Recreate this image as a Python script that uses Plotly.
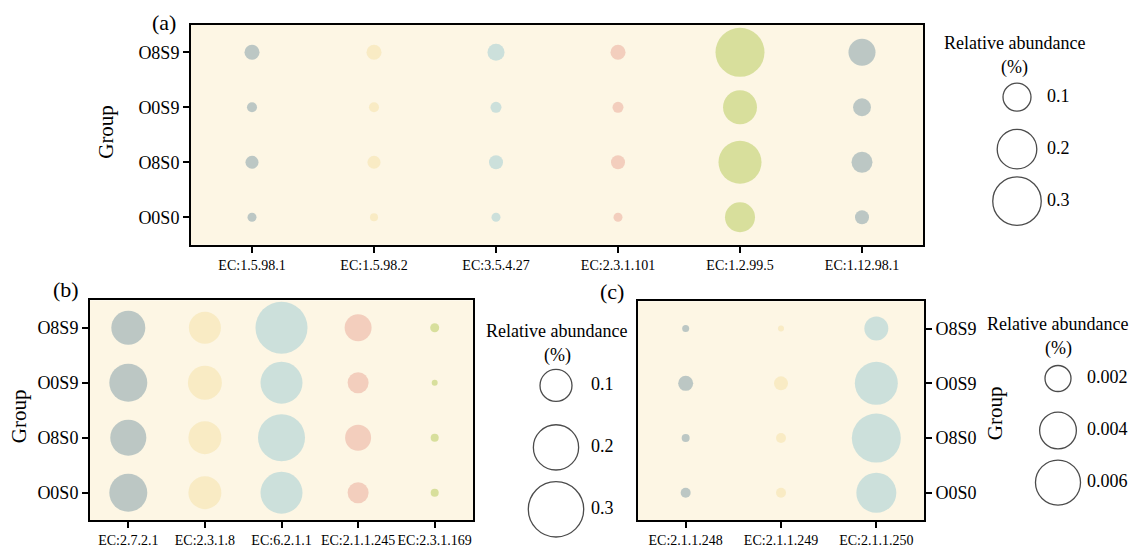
import plotly.graph_objects as go

W, H = 1141, 548
FONT = "Liberation Serif"

# ---------------- data ----------------
groups = ["O0S0", "O8S0", "O0S9", "O8S9"]          # bottom -> top
rows_top_down = ["O8S9", "O0S9", "O8S0", "O0S0"]   # order of values below

ec_a = ["EC:1.5.98.1", "EC:1.5.98.2", "EC:3.5.4.27", "EC:2.3.1.101", "EC:1.2.99.5", "EC:1.12.98.1"]
vals_a = [
    [0.0287, 0.0128, 0.0216, 0.0103],
    [0.0287, 0.0128, 0.0216, 0.0082],
    [0.0369, 0.0154, 0.0250, 0.0103],
    [0.0287, 0.0154, 0.0250, 0.0103],
    [0.3060, 0.1470, 0.2360, 0.1150],
    [0.0930, 0.0410, 0.0560, 0.0250],
]

ec_b = ["EC:2.7.2.1", "EC:2.3.1.8", "EC:6.2.1.1", "EC:2.1.1.245", "EC:2.3.1.169"]
vals_b = [
    [0.113, 0.141, 0.127, 0.141],
    [0.100, 0.113, 0.106, 0.106],
    [0.264, 0.172, 0.216, 0.172],
    [0.071, 0.043, 0.066, 0.043],
    [0.0079, 0.0035, 0.0063, 0.0063],
]

ec_c = ["EC:2.1.1.248", "EC:2.1.1.249", "EC:2.1.1.250"]
vals_c = [
    [0.000145, 0.000666, 0.000189, 0.000296],
    [0.000107, 0.000580, 0.000296, 0.000296],
    [0.00170, 0.00547, 0.00710, 0.00473],
]

legend_a = [0.1, 0.2, 0.3]
legend_b = [0.1, 0.2, 0.3]
legend_c = [0.002, 0.004, 0.006]
legend_a_labels = ["0.1", "0.2", "0.3"]
legend_b_labels = ["0.1", "0.2", "0.3"]
legend_c_labels = ["0.002", "0.004", "0.006"]

palette = ["#a0b4b6", "#f6e7b6", "#b7d7d7", "#eebdad", "#c8d57e"]
BG = "#fdf6e4"

# marker scaling (area proportional), per panel
sizeref_a = 2 * 0.1 / 28 ** 2
sizeref_b = 2 * 0.1 / 32 ** 2
sizeref_c = 2 * 0.002 / 26 ** 2


def px_x(p):
    return p / W


def px_y(p):
    return 1 - p / H


fig = go.Figure()


def add_panel(ecs, vals, xa, ya, sizeref):
    xs, ys, ss, cs = [], [], [], []
    for i, ec in enumerate(ecs):
        for j, g in enumerate(rows_top_down):
            xs.append(ec)
            ys.append(g)
            ss.append(vals[i][j])
            cs.append(palette[i % len(palette)])
    fig.add_trace(go.Scatter(
        x=xs, y=ys, mode="markers", xaxis=xa, yaxis=ya,
        marker=dict(size=ss, sizemode="area", sizeref=sizeref, color=cs,
                    line=dict(width=0)),
        cliponaxis=False, showlegend=False, hoverinfo="x+y+text",
        text=[str(s) for s in ss],
    ))


def add_legend(values, labels, xa, ya, sizeref):
    fig.add_trace(go.Scatter(
        x=[0] * len(values), y=labels, mode="markers", xaxis=xa, yaxis=ya,
        marker=dict(size=values, sizemode="area", sizeref=sizeref,
                    color="rgba(0,0,0,0)", line=dict(width=1.3, color="black")),
        cliponaxis=False, showlegend=False, hoverinfo="skip",
    ))
    fig.add_trace(go.Scatter(
        x=[1] * len(values), y=labels, mode="text", text=labels,
        textposition="middle right", xaxis=xa, yaxis=ya,
        textfont=dict(family=FONT, size=18, color="black"),
        cliponaxis=False, showlegend=False, hoverinfo="skip",
    ))


add_panel(ec_a, vals_a, "x", "y", sizeref_a)
add_panel(ec_b, vals_b, "x2", "y2", sizeref_b)
add_panel(ec_c, vals_c, "x3", "y3", sizeref_c)
add_legend(legend_a, legend_a_labels, "x4", "y4", sizeref_a)
add_legend(legend_b, legend_b_labels, "x5", "y5", sizeref_b)
add_legend(legend_c, legend_c_labels, "x6", "y6", sizeref_c)

axis_common = dict(showline=True, linewidth=2, linecolor="black", mirror=True,
                   showgrid=False, zeroline=False, ticks="outside", ticklen=6,
                   tickwidth=2, tickcolor="black", type="category")


def xaxis(ecs, dom, anchor):
    return dict(axis_common, domain=dom, anchor=anchor, range=[-0.5, len(ecs) - 0.5],
                categoryorder="array", categoryarray=ecs, tickangle=0,
                tickfont=dict(family=FONT, size=14, color="black"))


def yaxis(dom, anchor, side="left"):
    return dict(axis_common, domain=dom, anchor=anchor, range=[-0.5, len(groups) - 0.5],
                categoryorder="array", categoryarray=groups, side=side,
                tickfont=dict(family=FONT, size=18, color="black"))


hidden = dict(visible=False, showgrid=False, zeroline=False, fixedrange=True)

fig.update_layout(
    width=W, height=H, autosize=False,
    margin=dict(l=0, r=0, t=0, b=0),
    paper_bgcolor="white", plot_bgcolor="rgba(0,0,0,0)",
    font=dict(family=FONT, color="black"),
    xaxis=xaxis(ec_a, [px_x(191), px_x(923)], "y"),
    yaxis=yaxis([px_y(247), px_y(25)], "x"),
    xaxis2=xaxis(ec_b, [px_x(90), px_x(473)], "y2"),
    yaxis2=yaxis([px_y(525), px_y(303)], "x2"),
    xaxis3=xaxis(ec_c, [px_x(638), px_x(924)], "y3"),
    yaxis3=yaxis([px_y(525), px_y(304)], "x3", side="right"),
    xaxis4=dict(hidden, domain=[px_x(987), px_x(1092)], anchor="y4", range=[-1, 2.5]),
    yaxis4=dict(hidden, domain=[px_y(229.25), px_y(71.75)], anchor="x4", range=[-0.5, 2.5],
                type="category", categoryorder="array", categoryarray=legend_a_labels[::-1]),
    xaxis5=dict(hidden, domain=[px_x(521), px_x(643.5)], anchor="y5", range=[-1, 2.5]),
    yaxis5=dict(hidden, domain=[px_y(545.25), px_y(357.75)], anchor="x5", range=[-0.5, 2.5],
                type="category", categoryorder="array", categoryarray=legend_b_labels[::-1]),
    xaxis6=dict(hidden, domain=[px_x(1029), px_x(1130.5)], anchor="y6", range=[-1, 2.5]),
    yaxis6=dict(hidden, domain=[px_y(513.25), px_y(355.75)], anchor="x6", range=[-0.5, 2.5],
                type="category", categoryorder="array", categoryarray=legend_c_labels[::-1]),
)

# panel backgrounds
for xa, ya in [("x", "y"), ("x2", "y2"), ("x3", "y3")]:
    fig.add_shape(type="rect", xref=xa + " domain", yref=ya + " domain",
                  x0=0, x1=1, y0=0, y1=1, fillcolor=BG, line=dict(width=0), layer="below")

# annotations: panel letters, axis titles, legend titles
ann = []


def text_at(x, y, s, size, angle=0):
    ann.append(dict(x=px_x(x), y=px_y(y), xref="paper", yref="paper", text=s,
                    showarrow=False, xanchor="center", yanchor="middle", textangle=angle,
                    font=dict(family=FONT, size=size, color="black")))


text_at(164, 23, "(a)", 22)
text_at(66, 292, "(b)", 22)
text_at(612, 294, "(c)", 22)
text_at(106, 133, "Group", 21, -90)
text_at(19, 420, "Group", 21, -90)
text_at(995, 417, "Group", 21, -90)
text_at(1014, 43, "Relative abundance", 18)
text_at(1014, 68, "(%)", 18)
text_at(556, 334, "Relative abundance", 18)
text_at(557, 359, "(%)", 18)
text_at(1057, 327, "Relative abundance", 18)
text_at(1058, 352, "(%)", 18)
fig.update_layout(annotations=ann)

fig.write_html("out.html", config={"displayModeBar": False},
               post_script="document.body.style.margin='0';document.body.style.overflow='hidden';")
